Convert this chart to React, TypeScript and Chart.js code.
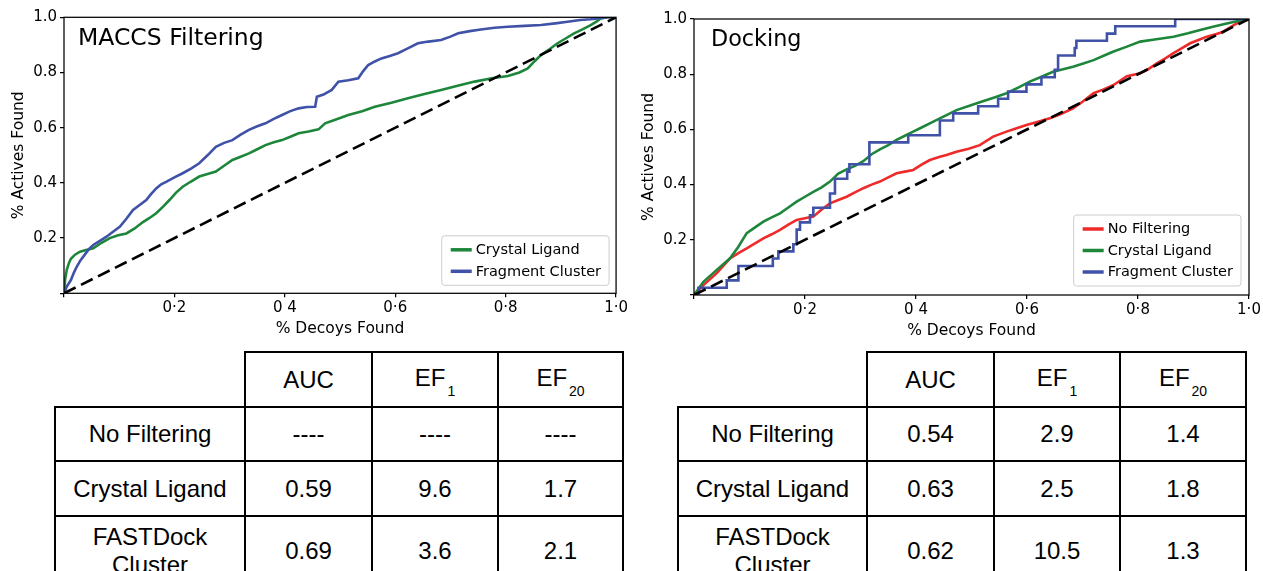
import React, { useEffect, useRef } from 'react';
import { Chart, registerables } from 'chart.js';

Chart.register(...registerables);

// ---------- data ----------
const xTickValues = [0, 0.2, 0.4, 0.6, 0.8, 1.0];
const xTickLabels = ['', '0·2', '0 4', '0·6', '0·8', '1·0'];
const yTickValues = [0, 0.2, 0.4, 0.6, 0.8, 1.0];
const yTickLabels = ['', '0.2', '0.4', '0.6', '0.8', '1.0'];

const randomDiagonal = [[0, 0], [1, 1]];

const maccsCrystalLigand = [
  [0, 0], [0.002, 0.05], [0.005, 0.085], [0.009, 0.11], [0.0125, 0.125], [0.02, 0.14], [0.029, 0.151],
  [0.04, 0.157], [0.053, 0.163], [0.068, 0.183], [0.083, 0.2], [0.098, 0.21], [0.113, 0.217], [0.128, 0.235],
  [0.143, 0.258], [0.155, 0.273], [0.167, 0.29], [0.18, 0.315], [0.191, 0.338], [0.203, 0.365], [0.215, 0.386],
  [0.23, 0.405], [0.245, 0.423], [0.26, 0.432], [0.275, 0.441], [0.29, 0.462], [0.305, 0.483], [0.32, 0.495],
  [0.335, 0.507], [0.35, 0.522], [0.365, 0.537], [0.38, 0.547], [0.395, 0.555], [0.41, 0.567], [0.425, 0.58],
  [0.443, 0.586], [0.461, 0.594], [0.473, 0.616], [0.49, 0.628], [0.515, 0.646], [0.54, 0.66], [0.563, 0.676],
  [0.593, 0.69], [0.623, 0.707], [0.653, 0.722], [0.683, 0.737], [0.713, 0.752], [0.744, 0.767], [0.775, 0.779],
  [0.804, 0.787], [0.825, 0.8], [0.84, 0.815], [0.852, 0.84], [0.864, 0.863], [0.88, 0.885], [0.894, 0.906],
  [0.91, 0.925], [0.924, 0.942], [0.94, 0.957], [0.954, 0.972], [0.965, 0.985], [0.972, 0.996], [0.985, 1.0], [1.0, 1.0],
];

const maccsFragmentCluster = [
  [0, 0], [0.005, 0.024], [0.0125, 0.048], [0.018, 0.075], [0.023, 0.096], [0.03, 0.12], [0.035, 0.133],
  [0.045, 0.16], [0.053, 0.175], [0.065, 0.19], [0.077, 0.205], [0.09, 0.225], [0.101, 0.241], [0.113, 0.27],
  [0.125, 0.302], [0.137, 0.32], [0.149, 0.338], [0.158, 0.36], [0.167, 0.38], [0.176, 0.395], [0.185, 0.404],
  [0.2, 0.42], [0.215, 0.435], [0.23, 0.452], [0.245, 0.471], [0.26, 0.5], [0.275, 0.531], [0.29, 0.545],
  [0.305, 0.555], [0.32, 0.575], [0.335, 0.592], [0.35, 0.605], [0.365, 0.616], [0.38, 0.632], [0.395, 0.646],
  [0.41, 0.66], [0.425, 0.67], [0.44, 0.675], [0.455, 0.676], [0.458, 0.712], [0.47, 0.72], [0.485, 0.737],
  [0.497, 0.767], [0.515, 0.772], [0.533, 0.779], [0.542, 0.805], [0.551, 0.827], [0.563, 0.84], [0.575, 0.851],
  [0.59, 0.86], [0.605, 0.87], [0.62, 0.885], [0.641, 0.906], [0.66, 0.912], [0.683, 0.918], [0.7, 0.93],
  [0.714, 0.942], [0.735, 0.95], [0.755, 0.956], [0.78, 0.962], [0.804, 0.966], [0.834, 0.969], [0.864, 0.972],
  [0.89, 0.978], [0.912, 0.984], [0.935, 0.99], [0.954, 0.993], [0.975, 0.998], [0.984, 1.0], [1.0, 1.0],
];

const dockingNoFiltering = [
  [0, 0], [0.017, 0.036], [0.041, 0.079], [0.065, 0.133], [0.08, 0.152], [0.095, 0.169], [0.11, 0.187],
  [0.125, 0.205], [0.14, 0.22], [0.155, 0.236], [0.17, 0.255], [0.185, 0.272], [0.2, 0.278], [0.215, 0.284],
  [0.23, 0.31], [0.245, 0.332], [0.26, 0.344], [0.275, 0.356], [0.29, 0.372], [0.305, 0.387], [0.32, 0.4],
  [0.335, 0.411], [0.35, 0.426], [0.365, 0.441], [0.38, 0.447], [0.395, 0.453], [0.41, 0.472], [0.425, 0.489],
  [0.443, 0.501], [0.455, 0.507], [0.473, 0.519], [0.495, 0.53], [0.515, 0.543], [0.539, 0.574], [0.563, 0.592],
  [0.58, 0.603], [0.599, 0.616], [0.62, 0.628], [0.641, 0.64], [0.66, 0.655], [0.683, 0.676], [0.7, 0.7],
  [0.72, 0.731], [0.738, 0.745], [0.756, 0.761], [0.78, 0.793], [0.804, 0.803], [0.82, 0.82], [0.834, 0.839],
  [0.85, 0.858], [0.864, 0.876], [0.88, 0.895], [0.894, 0.912], [0.91, 0.925], [0.924, 0.936], [0.94, 0.945],
  [0.954, 0.954], [0.966, 0.97], [0.978, 0.984], [0.99, 0.993], [1.0, 1.0],
];

const dockingCrystalLigand = [
  [0, 0], [0.017, 0.048], [0.041, 0.091], [0.065, 0.133], [0.08, 0.175], [0.095, 0.224], [0.11, 0.245],
  [0.125, 0.266], [0.14, 0.281], [0.155, 0.296], [0.17, 0.317], [0.185, 0.338], [0.2, 0.356], [0.215, 0.374],
  [0.23, 0.39], [0.245, 0.411], [0.26, 0.44], [0.275, 0.455], [0.29, 0.468], [0.305, 0.485], [0.32, 0.51],
  [0.335, 0.528], [0.35, 0.543], [0.365, 0.562], [0.38, 0.577], [0.395, 0.592], [0.41, 0.607], [0.425, 0.622],
  [0.443, 0.64], [0.455, 0.652], [0.473, 0.67], [0.495, 0.685], [0.515, 0.698], [0.54, 0.715], [0.563, 0.731],
  [0.585, 0.752], [0.605, 0.773], [0.625, 0.79], [0.647, 0.809], [0.665, 0.818], [0.683, 0.827], [0.7, 0.838],
  [0.72, 0.851], [0.738, 0.867], [0.756, 0.882], [0.78, 0.9], [0.804, 0.918], [0.83, 0.926], [0.864, 0.936],
  [0.89, 0.948], [0.912, 0.96], [0.935, 0.972], [0.96, 0.984], [0.98, 0.993], [1.0, 1.0],
];

const dockingFragmentCluster = [
  [0, 0], [0.008, 0.026], [0.059, 0.053], [0.08, 0.105], [0.142, 0.132], [0.152, 0.158], [0.179, 0.184],
  [0.185, 0.237], [0.191, 0.263], [0.209, 0.289], [0.215, 0.316], [0.245, 0.368], [0.254, 0.421],
  [0.276, 0.447], [0.28, 0.474], [0.316, 0.553], [0.386, 0.579], [0.443, 0.632], [0.467, 0.658],
  [0.512, 0.684], [0.548, 0.711], [0.566, 0.737], [0.599, 0.763], [0.626, 0.789], [0.65, 0.816],
  [0.656, 0.868], [0.686, 0.895], [0.689, 0.921], [0.744, 0.947], [0.759, 0.974], [0.867, 1.0], [1.0, 1.0],
];

const tableHeaders = ['AUC', 'EF', 'EF'];
const tableHeaderSubs = ['', '1', '20'];
const tableRowLabels = ['No Filtering', 'Crystal Ligand', 'FASTDock\nCluster'];
const maccsTableValues = [
  ['----', '----', '----'],
  ['0.59', '9.6', '1.7'],
  ['0.69', '3.6', '2.1'],
];
const dockingTableValues = [
  ['0.54', '2.9', '1.4'],
  ['0.63', '2.5', '1.8'],
  ['0.62', '10.5', '1.3'],
];

// ---------- styles ----------
const GREEN = '#1d863b';
const BLUE = '#3f52a8';
const RED = '#ee2a2a';
const FONT = '"DejaVu Sans", sans-serif';
const TICK_SIZE = 15;
const AXIS_TITLE_SIZE = 15.5;

const decorPlugin = {
  id: 'decor',
  afterDatasetsDraw(chart: any, _args: any, opts: any) {
    const { ctx, chartArea: a } = chart;
    ctx.save();
    // frame
    ctx.strokeStyle = '#000';
    ctx.lineWidth = 1.25;
    ctx.strokeRect(a.left, a.top, a.right - a.left, a.bottom - a.top);
    // inside title
    ctx.fillStyle = '#000';
    ctx.textAlign = 'left';
    ctx.textBaseline = 'alphabetic';
    ctx.font = `${opts.titleSize}px ${FONT}`;
    ctx.fillText(opts.title, a.left + opts.titleDx, a.top + opts.titleDy);
    // legend
    const items = chart.data.datasets.filter((d: any) => d.label);
    const lf = 14.5;
    ctx.font = `${lf}px ${FONT}`;
    const tw = Math.max(...items.map((d: any) => ctx.measureText(d.label).width));
    const padL = 9, sampleW = 21, gap = 4, padR = 8, rowH = 21.5, padV = 14;
    const w = padL + sampleW + gap + tw + padR;
    const h = padV * 2 + (items.length - 1) * rowH;
    const bx = a.right - opts.legendRight - w;
    const by = a.bottom - opts.legendBottom - h;
    ctx.beginPath();
    (ctx as any).roundRect(bx, by, w, h, 3);
    ctx.fillStyle = 'rgba(255,255,255,0.8)';
    ctx.fill();
    ctx.strokeStyle = '#cccccc';
    ctx.lineWidth = 1;
    ctx.stroke();
    items.forEach((d: any, i: number) => {
      const cy = by + padV + i * rowH;
      ctx.beginPath();
      ctx.moveTo(bx + padL, cy);
      ctx.lineTo(bx + padL + sampleW, cy);
      ctx.strokeStyle = d.borderColor;
      ctx.lineWidth = 3.5;
      ctx.stroke();
      ctx.fillStyle = '#000';
      ctx.textBaseline = 'middle';
      ctx.fillText(d.label, bx + padL + sampleW + gap, cy + 0.5);
    });
    ctx.restore();
  },
};

function toXY(points: number[][]) {
  return points.map(([x, y]) => ({ x, y }));
}

function makeConfig(datasets: any[], cfg: any) {
  return {
    type: 'line',
    data: { datasets },
    plugins: [decorPlugin],
    options: {
      animation: false,
      responsive: false,
      events: [],
      layout: { padding: cfg.padding },
      elements: { point: { radius: 0 }, line: { tension: 0 } },
      plugins: {
        legend: { display: false },
        tooltip: { enabled: false },
        decor: cfg.decor,
      },
      scales: {
        x: {
          type: 'linear',
          min: 0,
          max: 1,
          afterBuildTicks: (s: any) => { s.ticks = xTickValues.map((v) => ({ value: v })); },
          afterFit: (s: any) => { s.height = cfg.xAxisHeight; },
          ticks: {
            autoSkip: false,
            maxRotation: 0,
            color: '#000',
            padding: 2,
            font: { family: FONT, size: TICK_SIZE },
            callback: (_v: any, i: number) => xTickLabels[i],
          },
          grid: { drawOnChartArea: false, drawTicks: true, tickLength: 4, color: '#000', lineWidth: 1.25 },
          border: { display: false },
          title: {
            display: true,
            text: '% Decoys Found',
            color: '#000',
            font: { family: FONT, size: AXIS_TITLE_SIZE },
            padding: { top: 0, bottom: cfg.xTitlePad },
          },
        },
        y: {
          type: 'linear',
          min: 0,
          max: 1,
          afterBuildTicks: (s: any) => { s.ticks = yTickValues.map((v) => ({ value: v })); },
          afterFit: (s: any) => { s.width = 64; },
          ticks: {
            autoSkip: false,
            color: '#000',
            padding: 3,
            font: { family: FONT, size: TICK_SIZE },
            callback: (_v: any, i: number) => yTickLabels[i],
          },
          grid: { drawOnChartArea: false, drawTicks: true, tickLength: 4, color: '#000', lineWidth: 1.25 },
          border: { display: false },
          title: {
            display: true,
            text: '% Actives Found',
            color: '#000',
            font: { family: FONT, size: AXIS_TITLE_SIZE },
            padding: { top: 10, bottom: 0 },
          },
        },
      },
    },
  };
}

function diagonalDataset() {
  return {
    data: toXY(randomDiagonal),
    borderColor: '#000',
    borderWidth: 2.6,
    borderDash: [13, 6],
    order: 0,
  };
}

function line(label: string, pts: number[][], color: string, order: number, stepped = false) {
  return {
    label,
    data: toXY(pts),
    borderColor: color,
    backgroundColor: color,
    borderWidth: 2.6,
    stepped: stepped ? 'before' : false,
    order,
  };
}

function ChartCanvas({ config, left, width, height }: any) {
  const ref = useRef<HTMLCanvasElement>(null);
  useEffect(() => {
    const chart = new Chart(ref.current as HTMLCanvasElement, config);
    return () => chart.destroy();
  }, []);
  return (
    <canvas
      ref={ref}
      width={width}
      height={height}
      style={{ position: 'absolute', left, top: 0, width, height }}
    />
  );
}

function ResultTable({ xs, values }: { xs: number[]; values: string[][] }) {
  const ys = [352, 407, 461, 516, 586];
  const cells: any[] = [];
  const cellStyle = (c: number, r: number): React.CSSProperties => ({
    position: 'absolute',
    left: xs[c] - 1,
    top: ys[r] - 1,
    width: xs[c + 1] - xs[c] + 2,
    height: ys[r + 1] - ys[r] + 2,
    border: '2px solid #000',
    boxSizing: 'border-box',
    display: 'flex',
    alignItems: 'center',
    justifyContent: 'center',
    textAlign: 'center',
    whiteSpace: 'pre-line',
  });
  tableHeaders.forEach((h, i) => {
    cells.push(
      <div key={`h${i}`} style={cellStyle(i + 1, 0)}>
        <span>
          {h}
          {tableHeaderSubs[i] ? (
            <span style={{ fontSize: 14, position: 'relative', top: 10, marginLeft: 2 }}>{tableHeaderSubs[i]}</span>
          ) : null}
        </span>
      </div>
    );
  });
  tableRowLabels.forEach((lab, r) => {
    cells.push(
      <div key={`l${r}`} style={cellStyle(0, r + 1)}>
        {lab}
      </div>
    );
    values[r].forEach((v, c) => {
      cells.push(
        <div key={`v${r}-${c}`} style={cellStyle(c + 1, r + 1)}>
          {v}
        </div>
      );
    });
  });
  return <>{cells}</>;
}

export default function App() {
  const maccsConfig = makeConfig(
    [
      diagonalDataset(),
      line('Crystal Ligand', maccsCrystalLigand, GREEN, 2),
      line('Fragment Cluster', maccsFragmentCluster, BLUE, 1),
    ],
    {
      padding: { left: 0, top: 17.3, right: 11, bottom: 0 },
      xAxisHeight: 51.7,
      xTitlePad: 7,
      decor: { title: 'MACCS Filtering', titleSize: 23.5, titleDx: 14, titleDy: 28, legendRight: 7, legendBottom: 8 },
    }
  );
  const dockingConfig = makeConfig(
    [
      diagonalDataset(),
      line('No Filtering', dockingNoFiltering, RED, 3),
      line('Crystal Ligand', dockingCrystalLigand, GREEN, 2),
      line('Fragment Cluster', dockingFragmentCluster, BLUE, 1, true),
    ],
    {
      padding: { left: 0, top: 19, right: 14, bottom: 0 },
      xAxisHeight: 50,
      xTitlePad: 5,
      decor: { title: 'Docking', titleSize: 22.3, titleDx: 17, titleDy: 27, legendRight: 8, legendBottom: 9 },
    }
  );
  return (
    <div
      style={{
        position: 'fixed',
        left: 0,
        top: 0,
        width: 1263,
        height: 571,
        overflow: 'hidden',
        background: '#fff',
        fontFamily: '"Liberation Sans", Arial, sans-serif',
        fontSize: 24,
        lineHeight: '28px',
        color: '#000',
      }}
    >
      <ChartCanvas config={maccsConfig} left={0} width={630} height={345} />
      <ChartCanvas config={dockingConfig} left={630} width={633} height={345} />
      <ResultTable xs={[55, 245, 372, 498, 623]} values={maccsTableValues} />
      <ResultTable xs={[678, 867, 994, 1120, 1246]} values={dockingTableValues} />
    </div>
  );
}
